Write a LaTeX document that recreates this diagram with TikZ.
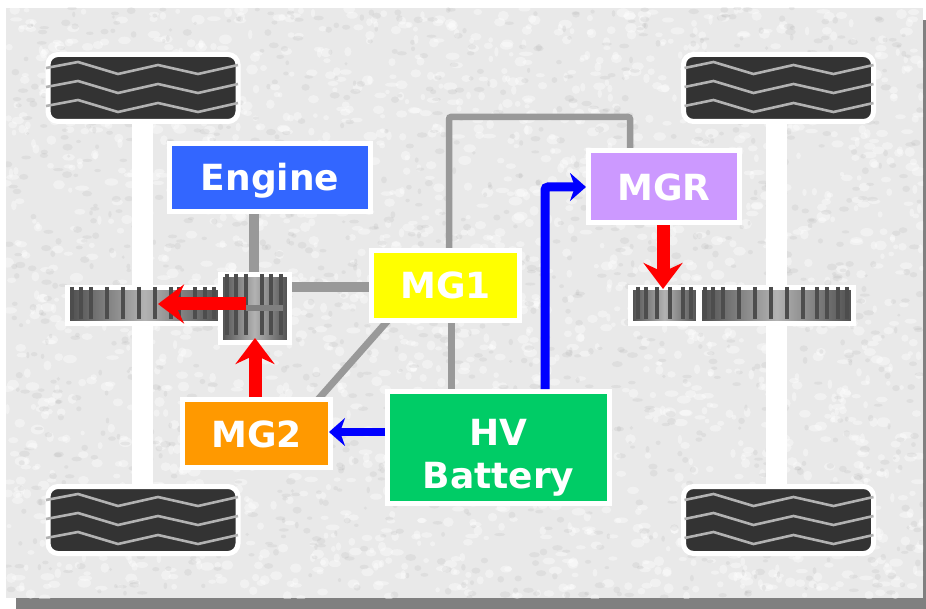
\documentclass[tikz,border=0pt]{standalone}
\usepackage{fontspec}
\setmainfont{DejaVu Sans}
\usetikzlibrary{arrows.meta,calc,backgrounds}

\definecolor{panelcol}{HTML}{E9E9E9}
\definecolor{enginecol}{HTML}{3366FF}
\definecolor{mgonecol}{HTML}{FFFF00}
\definecolor{mgtwocol}{HTML}{FF9900}
\definecolor{mgrcol}{HTML}{CC99FF}
\definecolor{battcol}{HTML}{00CC66}
\definecolor{shaftcol}{HTML}{999999}
\definecolor{toothcol}{HTML}{4D4D4D}
\definecolor{tirecol}{HTML}{333333}
\definecolor{treadcol}{HTML}{B2B2B2}

\tikzset{
  unitbox/.style={draw=white, line width=5pt, font=\bfseries\fontsize{36}{43}\selectfont,
    text=white, align=center, inner sep=0pt},
  lineone/.style={text height=27pt, text depth=0pt},
  tirebox/.style={draw=white, line width=5pt, fill=tirecol, rounded corners=10pt,
    minimum width=190pt, minimum height=67pt, inner sep=0pt},
  gearbox/.style={draw=white, line width=5pt, inner sep=0pt,
    left color=toothcol, right color=toothcol, middle color=shaftcol!75!white},
  axle/.style={white, line width=21pt},
  shaft/.style={shaftcol, line width=#1, rounded corners=2pt},
  tread/.style={treadcol, line width=2.6pt},
  tooth/.style={toothcol, line width=3.6pt},
  bluearr/.style={-{Stealth[length=16pt,width=28pt,inset=5pt]}, blue, line width=#1},
  redarr/.style={-{Stealth[length=26pt,width=39pt,inset=9pt]}, red, line width=13pt}
}

% one tire with its three tread lines
\newcommand{\tire}[4]{
  \node[tirebox] (#1) at (#2,#3) {};
  \foreach \dy in {-20,-1,18}
    \draw[tread] ($(#1.center)+(-97+#4,\dy)$) -- ++(32-#4,-6) -- ++(40,12) -- ++(40,-9)
      -- ++(40,9) -- ++(40,-9);
}

\begin{document}
\begin{tikzpicture}[x=1pt,y=-1pt]
  \useasboundingbox (0,0) rectangle (926,609);

  \tire{tireFL}{143}{88}{0}
  \tire{tireFR}{778.5}{88}{3}
  \tire{tireRL}{143}{520}{0}
  \tire{tireRR}{778.5}{520}{3}

  \draw[axle] (tireFL.south -| 142.5,0) -- (tireRL.north -| 142.5,0);
  \draw[axle] (tireFR.south -| 776.5,0) -- (tireRR.north -| 776.5,0);

  \node[gearbox, minimum width=154pt, minimum height=36pt] (gearL) at (144.5,305.5) {};
  \node[gearbox, minimum width=68pt, minimum height=36pt] (gearRa) at (664.5,305.5) {};
  \node[gearbox, minimum width=154pt, minimum height=36pt] (gearRb) at (776.5,305.5) {};
  \foreach \x in {72,81,91,107,123,139,155,171,179,195,205,214}
    \draw[tooth] (\x,287) -- (\x,319);
  \foreach \x in {638,646,657,670,683,691,705,713,723,739,755,771,787,803,817,827,838,847}
    \draw[tooth] (\x,287) -- (\x,319);

  \node[gearbox, minimum width=69pt, minimum height=68pt] (gearM) at (254.5,308.5) {};
  \foreach \x in {227,236,246,262,271,281}
    \draw[tooth] (\x,274) -- (\x,335);
  \draw[gray, line width=5.5pt] (246,308) -- (283,308);

  \node[unitbox, lineone, fill=enginecol, minimum width=201pt, minimum height=68pt] (engine) at (270,177.5) {Engine};
  \node[unitbox, lineone, fill=mgonecol, minimum width=148pt, minimum height=70pt] (mgone) at (445.5,285.5) {MG1};
  \node[unitbox, lineone, fill=mgtwocol, minimum width=148pt, minimum height=68pt] (mgtwo) at (256.5,433.5) {MG2};
  \node[unitbox, lineone, fill=mgrcol, minimum width=151pt, minimum height=72pt] (mgr) at (664,187) {MGR};
  \node[unitbox, fill=battcol, minimum width=222pt, minimum height=112pt] (battery) at (498.5,447.5) {\rule{0pt}{46pt}HV\\Battery};

  \begin{scope}[on background layer]
    % panel with its shadow
    \fill[black!50] (16,20) rectangle (926,609);
    \fill[panelcol] (6,8) rectangle (923,598);
    \pgfmathsetseed{41}
    \begin{scope}
      \clip (6,8) rectangle (923,598);
      \foreach \i in {1,...,2200}
        \fill[white, opacity=0.4] (6+917*rnd,8+590*rnd) ellipse ({2+5*rnd} and {2+3*rnd});
      \foreach \i in {1,...,1400}
        \fill[black!35, opacity=0.16] (6+917*rnd,8+590*rnd) ellipse ({1.5+4*rnd} and {1.5+2*rnd});
    \end{scope}

    \draw[shaft=10pt] (engine.center -| 254,0) -- (gearM.center -| 254,0);
    \draw[shaft=10pt] (gearM.center |- 0,287) -- (mgone.center |- 0,287);
    \draw[shaft=6.5pt] (mgone.center -| 449,0) -- (449,117) -- (630,117) -- (mgr.center -| 630,0);
    \draw[shaft=7pt] (mgone.center -| 451,0) -- (battery.center -| 451,0);
    \draw[shaft=7pt] ($(mgone.south west)+(22,-6)$) -- ($(mgtwo.north east)+(-18,6)$);
  \end{scope}

  \draw[bluearr=9pt, rounded corners=3pt] (battery.north -| 545,0) -- (545,187) -- (mgr.west |- 0,187);
  \draw[bluearr=8pt] (battery.west |- 0,432) -- ($(mgtwo.east |- 0,432)+(-4,0)$);

  \draw[redarr] (mgtwo.north -| 255,0) -- (255,338);
  \draw[redarr] (246,304) -- (158,304);
  \draw[redarr] (mgr.south -| 663,0) -- (663,289);
\end{tikzpicture}
\end{document}
